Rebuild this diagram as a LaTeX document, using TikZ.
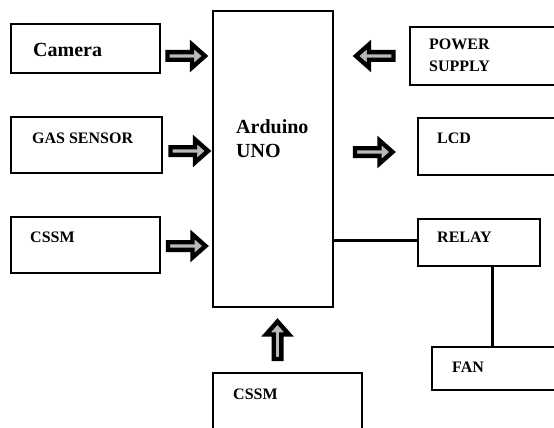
\documentclass[tikz,border=0pt]{standalone}
\usepackage{fontspec}
\setmainfont{Liberation Serif}
\begin{document}
\begin{tikzpicture}[x=1pt,y=-1pt,
  box/.style={draw=black,line width=1.6pt,inner sep=0pt},
  lbl/.style={inner sep=0pt,anchor=base west,font=\bfseries\fontsize{16}{21}\selectfont,align=left},
  big/.style={inner sep=0pt,anchor=base west,font=\bfseries\fontsize{20}{24}\selectfont,align=left},
  blockarrow/.pic={
    \draw[line width=4.4pt,line join=miter,fill=gray!55]
      (-19.5,-3.8) -- (5,-3.8) -- (5,-11.5) -- (18,0) -- (5,11.5) -- (5,3.8) -- (-19.5,3.8) -- cycle;
  },
  wire/.style={line width=3pt}]
\useasboundingbox (0,0) rectangle (554,428);
% boxes
\node[box,minimum width=149pt,minimum height=49pt] (cam) at (85.5,48.5) {};
\node[box,minimum width=151pt,minimum height=56pt] (gas) at (86.5,145) {};
\node[box,minimum width=149pt,minimum height=56pt] (cssm) at (85.5,245) {};
\node[box,minimum width=120pt,minimum height=296pt] (ard) at (273,159) {};
\node[box,minimum width=160pt,minimum height=58pt] (pow) at (490,56) {};
\node[box,minimum width=150pt,minimum height=57pt] (lcd) at (493,146.5) {};
\node[box,minimum width=122pt,minimum height=47pt] (relay) at (479,242.5) {};
\node[box,minimum width=140pt,minimum height=43pt] (fan) at (502,368.5) {};
\node[box,minimum width=149pt,minimum height=80pt] (cssmb) at (287.5,413) {};
% texts
\node[big] (tcam) at (33,57) {Camera};
\node[lbl] (tgas) at (32,143) {GAS SENSOR};
\node[lbl] (tcssm) at (30,242) {CSSM};
\node[big] (tard) at (236,157) {Arduino\\UNO};
\node[lbl] (tpow) at (429,71) {POWER\\SUPPLY};
\node[lbl] (tlcd) at (437,143) {LCD};
\node[lbl] (trel) at (437,242) {RELAY};
\node[lbl] (tfan) at (452,372) {FAN};
\node[lbl] (tcssmb) at (233,399) {CSSM};
% block arrows
\pic at (187,56) {blockarrow};
\pic at (190,151) {blockarrow};
\pic at (187.5,246) {blockarrow};
\pic[rotate=180] at (374,56) {blockarrow};
\pic at (374.5,152) {blockarrow};
\pic[rotate=90] at (277.5,339.5) {blockarrow};
% wires
\draw[wire] (ard.east |- 0,240) -- (relay.west |- 0,240);
\draw[wire] (relay.south -| 492,0) -- (fan.north -| 492,0);
\end{tikzpicture}
\end{document}
